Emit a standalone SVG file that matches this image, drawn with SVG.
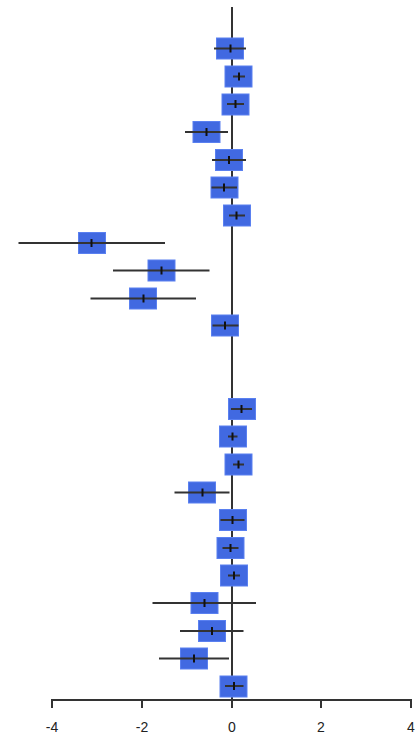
<svg xmlns="http://www.w3.org/2000/svg" width="416" height="737" viewBox="0 0 416 737">
<style>
.box{fill:#4169e1;stroke:#5a80f0;stroke-width:1}
.ci{stroke:#333;stroke-width:2;fill:none}
.pt{stroke:#111;stroke-width:2}
.ax{stroke:#333;stroke-width:2;fill:none}
.lbl{font-family:"Liberation Sans",Arial,sans-serif;font-size:14px;fill:#222;text-anchor:middle}
</style>
<g id="zero-line"><line class="ax" x1="232" y1="7" x2="232" y2="700"/></g>
<g id="axis">
<line class="ax" x1="52" y1="700" x2="411" y2="700"/>
<line class="ax" x1="52" y1="699" x2="52" y2="708"/>
<line class="ax" x1="142" y1="699" x2="142" y2="708"/>
<line class="ax" x1="232" y1="699" x2="232" y2="708"/>
<line class="ax" x1="321" y1="699" x2="321" y2="708"/>
<line class="ax" x1="411" y1="699" x2="411" y2="708"/>
<text class="lbl" x="52" y="732">-4</text>
<text class="lbl" x="142" y="732">-2</text>
<text class="lbl" x="232" y="732">0</text>
<text class="lbl" x="321" y="732">2</text>
<text class="lbl" x="411" y="732">4</text>
</g>
<g id="rows">
<g id="r1"><rect class="box" x="216.5" y="38" width="27" height="21"/><line class="ci" x1="214" y1="48.5" x2="246" y2="48.5"/><line class="pt" x1="230.5" y1="44.5" x2="230.5" y2="52.5"/></g>
<g id="r2"><rect class="box" x="225" y="66" width="27" height="21"/><line class="ci" x1="233" y1="76.5" x2="245" y2="76.5"/><line class="pt" x1="239" y1="72.5" x2="239" y2="80.5"/></g>
<g id="r3"><rect class="box" x="222" y="94" width="27" height="21"/><line class="ci" x1="227" y1="104" x2="244" y2="104"/><line class="pt" x1="235.5" y1="100" x2="235.5" y2="108"/></g>
<g id="r4"><rect class="box" x="193" y="121.5" width="27" height="21"/><line class="ci" x1="185" y1="132" x2="228" y2="132"/><line class="pt" x1="206.5" y1="128" x2="206.5" y2="136"/></g>
<g id="r5"><rect class="box" x="215.5" y="149.5" width="27" height="21"/><line class="ci" x1="212" y1="160" x2="246" y2="160"/><line class="pt" x1="229" y1="156" x2="229" y2="164"/></g>
<g id="r6"><rect class="box" x="211" y="177" width="27" height="21"/><line class="ci" x1="211.5" y1="187.5" x2="237" y2="187.5"/><line class="pt" x1="224" y1="183.5" x2="224" y2="191.5"/></g>
<g id="r7"><rect class="box" x="223.5" y="205" width="27" height="21"/><line class="ci" x1="229" y1="215.5" x2="245" y2="215.5"/><line class="pt" x1="236.5" y1="211.5" x2="236.5" y2="219.5"/></g>
<g id="r8"><rect class="box" x="78.5" y="232.5" width="27" height="21"/><line class="ci" x1="18.5" y1="243" x2="165" y2="243"/><line class="pt" x1="91.5" y1="239" x2="91.5" y2="247"/></g>
<g id="r9"><rect class="box" x="148" y="260" width="27" height="21"/><line class="ci" x1="113" y1="270.5" x2="209.5" y2="270.5"/><line class="pt" x1="161.5" y1="266.5" x2="161.5" y2="274.5"/></g>
<g id="r10"><rect class="box" x="129.5" y="288" width="27" height="21"/><line class="ci" x1="90.5" y1="298.5" x2="196" y2="298.5"/><line class="pt" x1="143.5" y1="294.5" x2="143.5" y2="302.5"/></g>
<g id="r11"><rect class="box" x="211.5" y="315" width="27" height="21"/><line class="ci" x1="212.5" y1="325.5" x2="238.5" y2="325.5"/><line class="pt" x1="225" y1="321.5" x2="225" y2="329.5"/></g>
<g id="r12"><rect class="box" x="228.5" y="398.5" width="27" height="21"/><line class="ci" x1="231" y1="409" x2="252" y2="409"/><line class="pt" x1="241.5" y1="405" x2="241.5" y2="413"/></g>
<g id="r13"><rect class="box" x="219.5" y="426" width="27" height="21"/><line class="ci" x1="228" y1="436.5" x2="237.5" y2="436.5"/><line class="pt" x1="232.5" y1="432.5" x2="232.5" y2="440.5"/></g>
<g id="r14"><rect class="box" x="225" y="454" width="27" height="21"/><line class="ci" x1="233" y1="464.5" x2="244" y2="464.5"/><line class="pt" x1="238.5" y1="460.5" x2="238.5" y2="468.5"/></g>
<g id="r15"><rect class="box" x="188.5" y="482" width="27" height="21"/><line class="ci" x1="174.5" y1="492.5" x2="229.5" y2="492.5"/><line class="pt" x1="202.5" y1="488.5" x2="202.5" y2="496.5"/></g>
<g id="r16"><rect class="box" x="219.5" y="509.5" width="27" height="21"/><line class="ci" x1="220.5" y1="520" x2="244.5" y2="520"/><line class="pt" x1="232.5" y1="516" x2="232.5" y2="524"/></g>
<g id="r17"><rect class="box" x="217" y="537.5" width="27" height="21"/><line class="ci" x1="222.5" y1="548" x2="238.5" y2="548"/><line class="pt" x1="230.5" y1="544" x2="230.5" y2="552"/></g>
<g id="r18"><rect class="box" x="220.5" y="565" width="27" height="21"/><line class="ci" x1="228" y1="575.5" x2="240" y2="575.5"/><line class="pt" x1="234" y1="571.5" x2="234" y2="579.5"/></g>
<g id="r19"><rect class="box" x="191" y="592.5" width="27" height="21"/><line class="ci" x1="152.5" y1="603" x2="256" y2="603"/><line class="pt" x1="204.5" y1="599" x2="204.5" y2="607"/></g>
<g id="r20"><rect class="box" x="198.5" y="620.5" width="27" height="21"/><line class="ci" x1="180" y1="631" x2="243.5" y2="631"/><line class="pt" x1="212" y1="627" x2="212" y2="635"/></g>
<g id="r21"><rect class="box" x="180.5" y="648" width="27" height="21"/><line class="ci" x1="159" y1="658.5" x2="229" y2="658.5"/><line class="pt" x1="194" y1="654.5" x2="194" y2="662.5"/></g>
<g id="r22"><rect class="box" x="220" y="676" width="27" height="21"/><line class="ci" x1="225" y1="686" x2="243.5" y2="686"/><line class="pt" x1="234" y1="682" x2="234" y2="690"/></g>
</g>
</svg>
